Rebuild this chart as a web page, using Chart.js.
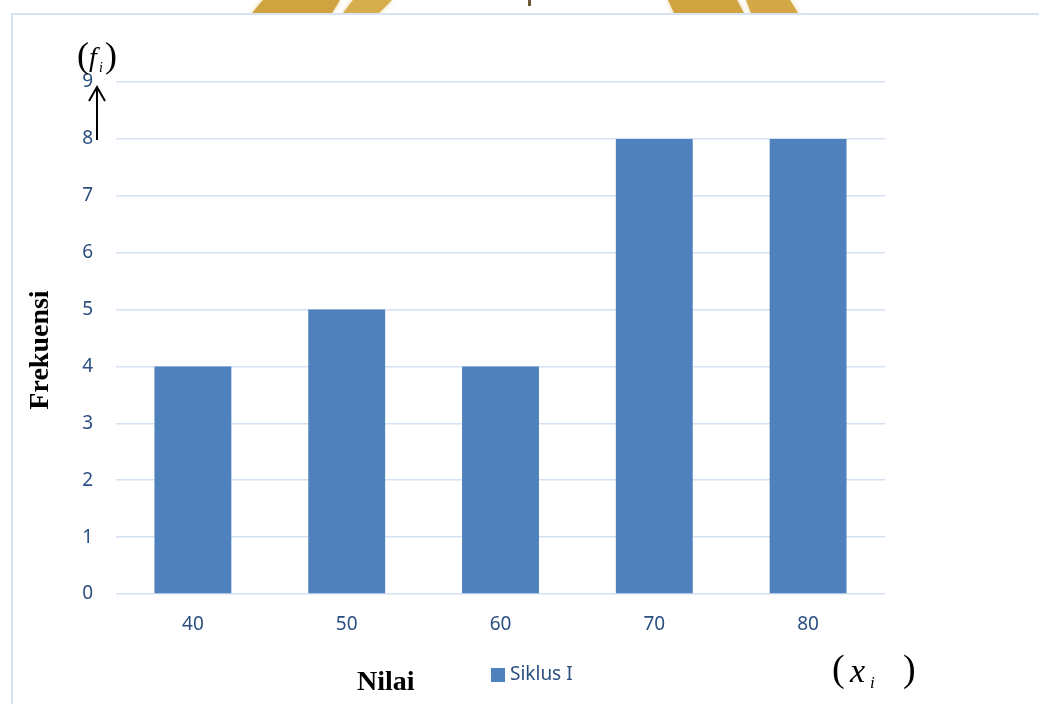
<!DOCTYPE html>
<html>
<head>
<meta charset="utf-8">
<script src="https://cdn.jsdelivr.net/npm/chart.js@4.4.0/dist/chart.umd.min.js"></script>
<style>
  html, body { margin: 0; padding: 0; background: #fff; }
  #wrap { width: 1039px; height: 704px; }
</style>
</head>
<body>
<div id="wrap"><canvas id="nilai-chart" width="1039" height="704"></canvas></div>
<script>
// data
const categories = ['40', '50', '60', '70', '80'];
const frekuensi = [4, 5, 4, 8, 8];
const seriesName = 'Siklus I';
const yTicks = [0, 1, 2, 3, 4, 5, 6, 7, 8, 9];

const barColor = '#4f81bd';
const tickColor = '#2b4f82';
const gridColor = '#d4e1f2';

// frame, bits of the background picture, captions and the hand drawn legend
const decorPlugin = {
    id: 'decor',
    beforeDraw(chart) {
        const ctx = chart.ctx;
        ctx.save();
        ctx.fillStyle = '#fff';
        ctx.fillRect(0, 0, chart.width, chart.height);

        // golden strips of the watermark peeking over the frame
        const gold = [
            [[252, 13], [263, 0], [340, 0], [332, 13], '#cfa340'],
            [[343, 13], [353, 0], [392, 0], [379, 13], '#d6ad4c'],
            [[674, 13], [668, 0], [737, 0], [744, 13], '#cfa340'],
            [[751, 13], [746, 0], [790, 0], [798, 13], '#d4a846']
        ];
        ctx.shadowColor = 'rgba(210,170,70,0.6)';
        ctx.shadowBlur = 4;
        gold.forEach(p => {
            ctx.fillStyle = p[4];
            ctx.beginPath();
            ctx.moveTo(p[0][0], p[0][1]);
            ctx.lineTo(p[1][0], p[1][1]);
            ctx.lineTo(p[2][0], p[2][1]);
            ctx.lineTo(p[3][0], p[3][1]);
            ctx.closePath();
            ctx.fill();
        });
        ctx.shadowBlur = 0;
        ctx.fillStyle = '#6b5a3a';
        ctx.fillRect(528, 0, 3, 6);
        ctx.fillStyle = '#fff';
        ctx.fillRect(0, 13, chart.width, chart.height);

        // chart frame
        ctx.strokeStyle = '#d8e3f1';
        ctx.lineWidth = 2;
        ctx.strokeRect(12, 14, chart.width + 20, chart.height + 20);
        ctx.restore();
    },
    afterDraw(chart) {
        const ctx = chart.ctx;
        ctx.save();
        ctx.fillStyle = '#000';
        ctx.textBaseline = 'middle';

        // y title
        ctx.save();
        ctx.translate(41, 350);
        ctx.rotate(-Math.PI / 2);
        ctx.textAlign = 'center';
        ctx.font = 'bold 28px "Liberation Serif"';
        ctx.fillText('Frekuensi', 0, 0);
        ctx.restore();

        // x title
        ctx.textAlign = 'left';
        ctx.font = 'bold 28px "Liberation Serif"';
        ctx.fillText('Nilai', 357, 683);

        // (f_i) with the arrow
        ctx.font = '36px "Liberation Serif"';
        ctx.fillText('(', 77, 58);
        ctx.fillText(')', 105, 58);
        ctx.font = 'italic 28px "Liberation Serif"';
        ctx.fillText('f', 89, 59);
        ctx.font = 'italic 14px "Liberation Serif"';
        ctx.fillText('i', 99, 68);

        ctx.strokeStyle = '#000';
        ctx.lineWidth = 2;
        ctx.beginPath();
        ctx.moveTo(97, 140);
        ctx.lineTo(97, 87);
        ctx.moveTo(89, 101);
        ctx.lineTo(97, 87);
        ctx.lineTo(105, 101);
        ctx.stroke();

        // (x_i)
        ctx.font = '38px "Liberation Serif"';
        ctx.fillText('(', 832, 671);
        ctx.fillText(')', 903, 671);
        ctx.font = 'italic 34px "Liberation Serif"';
        ctx.fillText('x', 850, 673);
        ctx.font = 'italic 17px "Liberation Serif"';
        ctx.fillText('i', 870, 684);

        // legend
        const ds = chart.data.datasets[0];
        ctx.fillStyle = ds.backgroundColor;
        ctx.fillRect(491, 668, 14, 14);
        ctx.fillStyle = tickColor;
        ctx.font = '19px "Noto Sans"';
        ctx.fillText(ds.label, 510, 675);
        ctx.restore();
    }
};

const chartData = {
    labels: categories,
    datasets: [{
        label: seriesName,
        data: frekuensi,
        backgroundColor: barColor,
        borderWidth: 0,
        categoryPercentage: 1.0,
        barPercentage: 0.5
    }]
};

const chartConfig = {
    type: 'bar',
    data: chartData,
    plugins: [decorPlugin],
    options: {
        responsive: false,
        animation: false,
        devicePixelRatio: 1,
        layout: { padding: { left: 30, right: 154, top: 82, bottom: 0 } },
        plugins: {
            legend: { display: false },
            tooltip: { enabled: false }
        },
        scales: {
            y: {
                min: yTicks[0],
                max: yTicks[yTicks.length - 1],
                afterBuildTicks: s => { s.ticks = yTicks.map(v => ({ value: v })); },
                afterFit: s => { s.width = 86; },
                border: { display: false },
                grid: { color: gridColor, lineWidth: 1.5, drawTicks: false },
                ticks: {
                    color: tickColor,
                    padding: 23,
                    font: { family: 'Noto Sans', size: 19 }
                }
            },
            x: {
                afterFit: s => { s.height = 110; },
                border: { display: false },
                grid: { display: false, drawTicks: false },
                ticks: {
                    color: tickColor,
                    padding: 19,
                    font: { family: 'Noto Sans', size: 19 }
                }
            }
        }
    }
};

const nilaiChart = new Chart(document.getElementById('nilai-chart'), chartConfig);
</script>
</body>
</html>
